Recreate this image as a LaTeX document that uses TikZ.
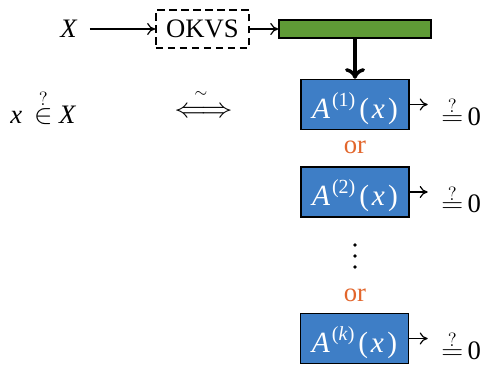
\documentclass[tikz,border=0pt]{standalone}
\usepackage{fontspec}
\setmainfont{Liberation Serif}
\usetikzlibrary{arrows.meta}
\definecolor{barGreen}{HTML}{5F9A36}
\definecolor{boxBlue}{HTML}{3E7EC6}
\definecolor{orOrange}{HTML}{E2662C}
% italic letters from the text font, for a uniform Times look
\newcommand{\iv}[1]{\textit{#1}}
\newcommand{\decoder}[1]{{\fontsize{22}{26}\selectfont\iv{A}\kern1.5pt\raisebox{9pt}{\fontsize{15}{15}\selectfont(#1)}\kern3pt(\kern2pt\iv{x}\kern2.5pt)}}
\newcommand{\qeq}{$\stackrel{\scriptstyle ?}{\scalebox{1.1}[1]{$=$}}$}
\begin{document}
\begin{tikzpicture}[x=0.75pt,y=-0.75pt,
  font=\fontsize{20}{24}\selectfont,
  thinarrow/.style={-{To[length=6pt,width=9pt]}, line width=0.9pt},
  thickarrow/.style={-{To[length=8pt,width=15pt]}, line width=2.6pt},
  okvsbox/.style={draw=black, dashed, dash pattern=on 5.5pt off 3.5pt, line width=1.1pt,
    minimum width=70pt, minimum height=28.5pt, inner sep=0pt},
  greenbar/.style={draw=black, line width=1.1pt, fill=barGreen,
    minimum width=114pt, minimum height=13.5pt, inner sep=0pt},
  abox/.style={draw=black, line width=1.1pt, fill=boxBlue, text=white,
    minimum width=81pt, minimum height=37.5pt, inner sep=0pt,
    text height=24pt, text depth=3.5pt},
  ortext/.style={text=orOrange, inner sep=0pt},
  eqtext/.style={anchor=base west, inner sep=0pt}]
\useasboundingbox (0,0) rectangle (484,365);

% input set and encoding
\node[inner sep=0pt] (X) at (69,29) {\iv{X}};
\node[okvsbox] (okvs) at (202.5,29) {OKVS};
\node[greenbar] (bar) at (355,29) {};
\draw[thinarrow, shorten <=9pt] (X.east) -- (okvs.west);
\draw[thinarrow] (okvs.east) -- (bar.west);

% membership statement and equivalence
\node[anchor=base west, inner sep=0pt] (memb) at (10,123)
  {\iv{x}\hspace{9pt}$\stackrel{?}{\in}$\hspace{5pt}\iv{X}};
\node[inner sep=0pt] (equiv) at (203.5,112) {\scalebox{1.15}[1]{$\Longleftrightarrow$}};
\node[inner sep=0pt] (tilde) at (201,94.5) {\scalebox{0.85}{$\scriptstyle\sim$}};

% decoding alternatives
\node[abox] (A1) at (355,104.5) {\decoder{1}};
\node[ortext] (or1) at (355,147) {or};
\node[abox] (A2) at (355,192) {\decoder{2}};
\foreach \yy in {245,256,267} \fill (355,\yy) circle (1.4pt);
\node[ortext] (or2) at (355,295) {or};
\node[abox] (Ak) at (354.5,338.5) {\decoder{\iv{k}}};

\draw[thickarrow] (bar.south) -- (A1.north);

\node[eqtext] (e1) at (441,125) {\qeq\,0};
\node[eqtext] (e2) at (441,212.5) {\qeq\,0};
\node[eqtext] (ek) at (441,359) {\qeq\,0};
\draw[thinarrow] (A1.east) -- ([xshift=-10pt]A1.east -| e1.west);
\draw[thinarrow] (A2.east) -- ([xshift=-10pt]A2.east -| e2.west);
\draw[thinarrow] (Ak.east) -- ([xshift=-10pt]Ak.east -| ek.west);
\end{tikzpicture}
\end{document}
